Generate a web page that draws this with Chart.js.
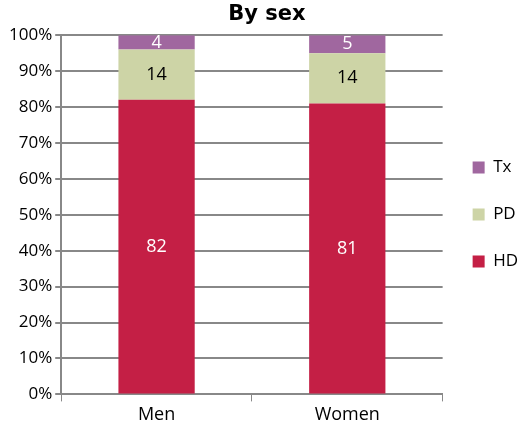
<!DOCTYPE html>
<html><head><meta charset="utf-8">
<script src="https://cdn.jsdelivr.net/npm/chart.js@4"></script>
<style>html,body{margin:0;padding:0;background:#fff}#w{width:520px;height:433px}</style>
</head><body><div id="w"><canvas id="c"></canvas></div>
<script>
const categories = ["Men", "Women"];
const hdValues = [82, 81];
const pdValues = [14, 14];
const txValues = [4, 5];
const seriesNames = ["HD", "PD", "Tx"];

const labelPlugin = {
  id: 'vals',
  afterDatasetsDraw(chart) {
    const ctx = chart.ctx;
    ctx.save();
    ctx.font = '18px "Open Sans"';
    ctx.textAlign = 'center';
    ctx.textBaseline = 'middle';
    chart.data.datasets.forEach((ds, i) => {
      chart.getDatasetMeta(i).data.forEach((bar, j) => {
        const y = (bar.y + bar.base) / 2;
        ctx.fillStyle = ds.labelColor;
        ctx.fillText(String(ds.data[j]), bar.x, y);
      });
    });
    ctx.restore();
  }
};

new Chart(document.getElementById('c'), {
  type: 'bar',
  data: {
    labels: categories,
    datasets: [
      {label: seriesNames[0], data: hdValues, backgroundColor: '#C41F45', labelColor: '#fff'},
      {label: seriesNames[1], data: pdValues, backgroundColor: '#CDD4A6', labelColor: '#000'},
      {label: seriesNames[2], data: txValues, backgroundColor: '#A0679F', labelColor: '#fff'}
    ]
  },
  options: {
    responsive: true, maintainAspectRatio: false, animation: false,
    layout: {padding: {left: 6, right: -8, top: 0, bottom: 4}},
    datasets: {bar: {barPercentage: 0.4, categoryPercentage: 1}},
    plugins: {
      title: {display: true, text: 'By sex', font: {family: 'DejaVu Sans', size: 21, weight: 'bold'}, color: '#000', padding: {top: 2, bottom: 8}},
      legend: {position: 'right', reverse: true,
        labels: {boxWidth: 12, boxHeight: 12, padding: 30, color: '#000', font: {family: 'Open Sans', size: 17}}},
      tooltip: {enabled: false}
    },
    scales: {
      x: {stacked: true,
        grid: {display: true, drawOnChartArea: false, offset: true, color: '#888', tickLength: 7},
        border: {color: '#888', width: 2},
        ticks: {color: '#000', font: {family: 'Open Sans', size: 18}}},
      y: {stacked: true, min: 0, max: 100,
        grid: {color: '#888', lineWidth: 2, drawTicks: true, tickLength: 6},
        border: {color: '#888', width: 2},
        ticks: {stepSize: 10, color: '#000', font: {family: 'Open Sans', size: 17}, callback: v => v + '%'}}
    }
  },
  plugins: [labelPlugin]
});
</script></body></html>
